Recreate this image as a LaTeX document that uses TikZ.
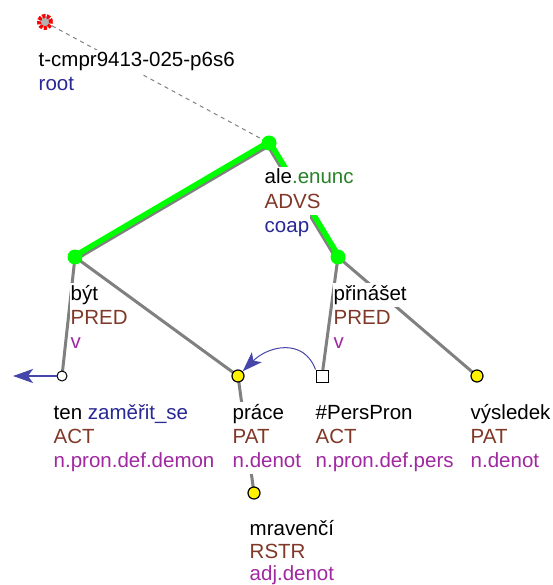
\documentclass[tikz,border=0pt]{standalone}
\usepackage{fontspec}
\setmainfont{Liberation Sans}
\usetikzlibrary{arrows.meta, backgrounds}
\definecolor{functor}{RGB}{128,56,40}
\definecolor{infoblue}{RGB}{40,40,150}
\definecolor{enunc}{RGB}{40,130,40}
\definecolor{sempos}{RGB}{160,40,160}
\definecolor{coref}{RGB}{70,70,170}

\begin{document}
\begin{tikzpicture}[x = 1pt, y = -1pt,
  lbl/.style = {anchor = base west, inner xsep = 0.5pt, inner ysep = 0pt, text height = 17pt, text depth = 7pt,
    fill = white, font = \fontsize{20.5}{24}\selectfont},
  lemma/.style = {lbl, text = black},
  func/.style = {lbl, text = functor},
  sem/.style = {lbl, text = sempos},
  edge/.style = {draw = gray, line width = 3pt},
  coapedge/.style = {draw = green, line width = 5.5pt},
  plain/.style = {circle, draw = black, line width = 1pt, fill = white, inner sep = 0pt, minimum size = 10pt},
  yellownode/.style = {circle, draw = black, line width = 1.2pt, fill = yellow, inner sep = 0pt, minimum size = 12pt},
  squarenode/.style = {rectangle, draw = black, line width = 1pt, fill = white, inner sep = 0pt, minimum size = 12pt},
  greennode/.style = {circle, fill = green, inner sep = 0pt, minimum size = 15pt},
  corefline/.style = {draw = coref, -{Stealth[length = 20pt, width = 14pt, inset = 5pt]}}]

\path[use as bounding box] (0, 0) rectangle (552, 585);

% tree nodes
\node[circle, draw = red, fill = gray!60, line width = 4pt, dash pattern = on 3pt off 1.5pt, inner sep = 0pt, minimum size = 12pt] (root) at (45, 22) {};
\node[greennode] (ale) at (269, 143) {};
\node[greennode] (byt) at (75, 257) {};
\node[greennode] (prinaset) at (338, 257) {};
\node[plain] (ten) at (62, 376) {};
\node[yellownode] (prace) at (238, 376) {};
\node[squarenode] (perspron) at (322, 376) {};
\node[yellownode] (vysledek) at (477, 376) {};
\node[yellownode] (mravenci) at (254, 493) {};
\coordinate (prevtree) at (13, 376);

% edges
\begin{scope}[on background layer]
\draw[gray, line width = 1pt, dash pattern = on 4pt off 4pt] (root.center) -- (ale.center);
\draw[edge, transform canvas = {shift = {(1.3, 2.1)}}] (ale.center) -- (byt.center);
\draw[coapedge, transform canvas = {shift = {(-0.5, -0.9)}}] (ale.center) -- (byt.center);
\draw[edge, transform canvas = {shift = {(-2.1, 1.3)}}] (ale.center) -- (prinaset.center);
\draw[coapedge, transform canvas = {shift = {(0.9, -0.5)}}] (ale.center) -- (prinaset.center);
\draw[edge] (byt.center) -- (ten.center);
\draw[edge] (byt.center) -- (prace.center);
\draw[edge] (prinaset.center) -- (perspron.center);
\draw[edge] (prinaset.center) -- (vysledek.center);
\draw[edge] (prace.center) -- (mravenci.center);
\end{scope}

% coreference
\draw[corefline, line width = 1pt] (perspron.north west) .. controls +(-12, -32) and +(30, -30) .. (prace);
\draw[corefline, line width = 2pt] (ten) -- (prevtree);

% labels
\node[lemma] (root-lemma) at (38, 67) {t-cmpr9413-025-p6s6};
\node[lbl, text = infoblue] (root-info) at (38, 91) {root};

\node[lemma] (ale-lemma) at (264, 184) {ale\textcolor{enunc}{.enunc}};
\node[func] (ale-func) at (264, 208) {ADVS};
\node[lbl, text = infoblue] (ale-info) at (264, 232) {coap};

\node[lemma] (byt-lemma) at (70, 300) {být};
\node[func] (byt-func) at (70, 324) {PRED};
\node[sem] (byt-sem) at (70, 348) {v};

\node[lemma] (prinaset-lemma) at (333, 300) {přinášet};
\node[func] (prinaset-func) at (333, 324) {PRED};
\node[sem] (prinaset-sem) at (333, 348) {v};

\node[lemma] (ten-lemma) at (53, 419) {ten \textcolor{infoblue}{zaměřit\_se}};
\node[func] (ten-func) at (53, 443) {ACT};
\node[sem] (ten-sem) at (53, 467) {n.pron.def.demon};

\node[lemma] (prace-lemma) at (232, 419) {práce};
\node[func] (prace-func) at (232, 443) {PAT};
\node[sem] (prace-sem) at (232, 467) {n.denot};

\node[lemma] (perspron-lemma) at (315, 419) {\#PersPron};
\node[func] (perspron-func) at (315, 443) {ACT};
\node[sem] (perspron-sem) at (315, 467) {n.pron.def.pers};

\node[lemma] (vysledek-lemma) at (470, 419) {výsledek};
\node[func] (vysledek-func) at (470, 443) {PAT};
\node[sem] (vysledek-sem) at (470, 467) {n.denot};

\node[lemma] (mravenci-lemma) at (249, 535) {mravenčí};
\node[func] (mravenci-func) at (249, 558) {RSTR};
\node[sem] (mravenci-sem) at (249, 580) {adj.denot};
\end{tikzpicture}
\end{document}
